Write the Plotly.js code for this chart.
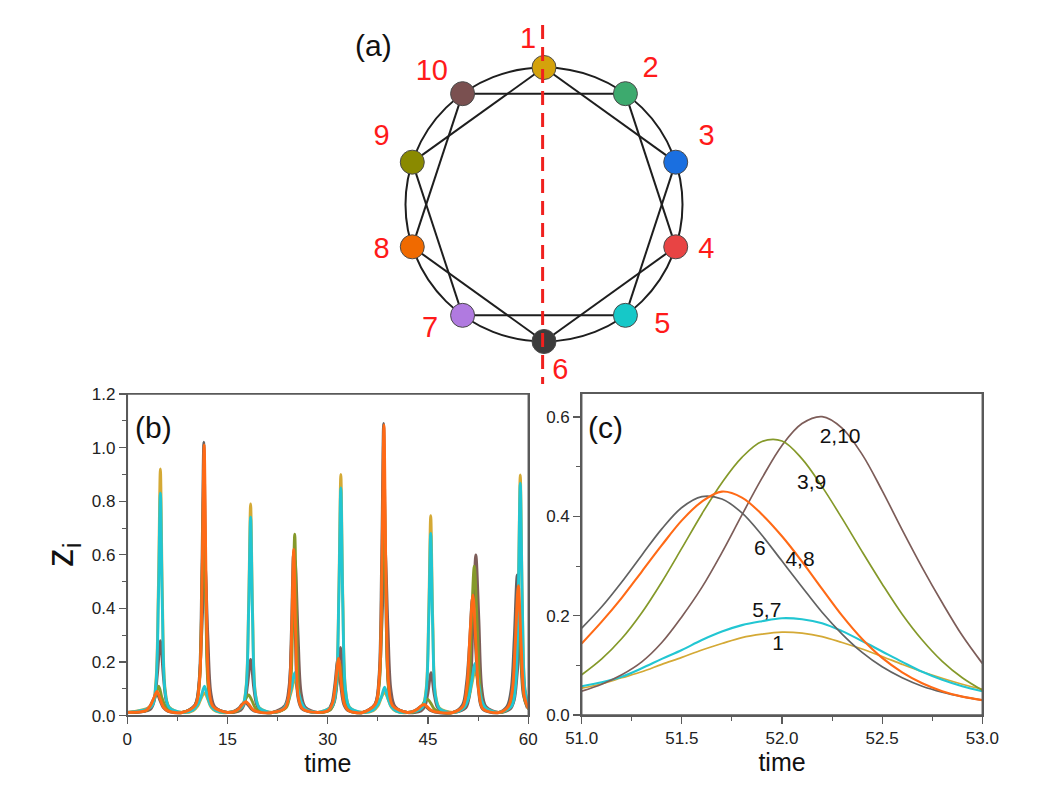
<!DOCTYPE html>
<html>
<head>
<meta charset="utf-8">
<script src="https://cdn.plot.ly/plotly-3.0.1.min.js"></script>
<style>
  html, body { margin: 0; padding: 0; background: #ffffff; }
  #chart { width: 1057px; height: 789px; }
</style>
</head>
<body>
<div id="chart"></div>
<script>
// ---------------- Panel (a): network of 10 oscillators ----------------
const nodeIds = [1, 2, 3, 4, 5, 6, 7, 8, 9, 10];
const nodeColors = ['#D4A20C', '#3DAA6E', '#1A6FE0', '#E84444', '#16C8C8',
                    '#3C3C3C', '#B07AE0', '#F06A00', '#8A8A00', '#7A5050'];
// chords (second-neighbour coupling); the ring itself links neighbours
const edges = [[1, 3], [1, 9], [2, 4], [2, 10], [3, 5], [4, 6], [5, 7], [6, 8], [7, 9], [8, 10]];

// ---------------- Panel (b): z_i versus time, 0..60 ----------------
const tA = [0, 3.65,4.25,4.65,4.95,5.25,5.65,6.25, 8.2, 9.85,10.55,11.05,11.55,12.05,12.55,13.25, 15.0,
  17.15,17.75,18.15,18.45,18.75,19.15,19.75, 21.7, 23.35,24.05,24.55,25.05,25.55,26.05,26.75, 28.5,
  30.65,31.25,31.65,31.95,32.25,32.65,33.25, 35.2, 36.8,37.5,38.0,38.5,39.0,39.5,40.2, 41.9,
  44.1,44.7,45.1,45.4,45.7,46.1,46.7, 48.7, 50.35,51.05,51.55,52.05,52.55,53.05,53.75, 55.6,
  57.5,58.1,58.5,58.8,59.1,59.5,60.1];
const zNode1 = [0.012, 0.038,0.12,0.478,0.92,0.442,0.101,0.033, 0.012, 0.019,0.036,0.065,0.085,0.061,0.031,0.017, 0.012,
  0.034,0.103,0.41,0.79,0.38,0.087,0.03, 0.012, 0.024,0.052,0.091,0.14,0.084,0.045,0.021, 0.012,
  0.037,0.117,0.468,0.90,0.432,0.099,0.032, 0.012, 0.019,0.036,0.067,0.088,0.063,0.032,0.017, 0.012,
  0.032,0.097,0.388,0.746,0.358,0.082,0.029, 0.012, 0.027,0.06,0.118,0.167,0.11,0.05,0.023, 0.012,
  0.037,0.117,0.467,0.898,0.431,0.099,0.032];
const zNode57 = [0.012, 0.035,0.108,0.432,0.83,0.398,0.091,0.031, 0.012, 0.021,0.043,0.072,0.11,0.066,0.035,0.019, 0.012,
  0.032,0.096,0.385,0.74,0.355,0.081,0.029, 0.012, 0.026,0.058,0.104,0.16,0.096,0.05,0.023, 0.012,
  0.036,0.11,0.442,0.85,0.408,0.094,0.031, 0.012, 0.021,0.042,0.069,0.106,0.064,0.034,0.018, 0.012,
  0.03,0.088,0.354,0.68,0.326,0.075,0.027, 0.012, 0.03,0.066,0.13,0.195,0.125,0.055,0.026, 0.012,
  0.036,0.113,0.451,0.867,0.416,0.095,0.032];

const tB210 = [0, 3.45,4.05,4.5,4.95,5.4,5.85,6.45, 8.2, 10.1,10.7,11.15,11.6,12.05,12.5,13.1, 15.0,
  16.95,17.55,18.0,18.45,18.9,19.35,19.95, 21.7, 23.6,24.2,24.65,25.1,25.55,26.0,26.6, 28.5,
  30.4,31.0,31.45,31.9,32.35,32.8,33.4, 35.2, 37.05,37.65,38.1,38.55,39.0,39.45,40.05, 41.9,
  43.95,44.55,45.0,45.45,45.9,46.35,46.95, 48.7, 50.65,51.25,51.7,52.15,52.6,53.05,53.65, 55.6,
  57.3,57.9,58.35,58.8,59.25,59.7,60.3];
const zNode210 = [0.012, 0.024,0.058,0.154,0.28,0.146,0.052,0.021, 0.012, 0.039,0.108,0.316,0.575,0.299,0.086,0.033, 0.012,
  0.02,0.046,0.116,0.21,0.109,0.042,0.018, 0.012, 0.039,0.109,0.319,0.58,0.302,0.087,0.033, 0.012,
  0.023,0.053,0.14,0.255,0.133,0.048,0.02, 0.012, 0.042,0.117,0.347,0.63,0.328,0.095,0.035, 0.012,
  0.018,0.037,0.088,0.16,0.083,0.034,0.016, 0.012, 0.03,0.09,0.33,0.6,0.36,0.1,0.035, 0.012,
  0.025,0.059,0.16,0.29,0.151,0.053,0.02];

const tB39 = [0, 3.0,3.7,4.2,4.7,5.2,5.7,6.4, 8.2, 10.15,10.75,11.15,11.45,11.75,12.15,12.75, 15.0,
  16.45,17.15,17.65,18.15,18.65,19.15,19.85, 21.7, 23.75,24.35,24.75,25.05,25.35,25.75,26.35, 28.5,
  30.25,30.85,31.3,31.75,32.2,32.65,33.25, 35.2, 37.1,37.7,38.1,38.4,38.7,39.1,39.7, 41.9,
  43.2,43.9,44.4,44.9,45.4,45.9,46.6, 48.7, 50.42,51.02,51.47,51.92,52.37,52.82,53.42, 55.6,
  57.05,57.65,58.1,58.55,59.0,59.45,60.05];
const zNode39 = [0.012, 0.021,0.043,0.072,0.11,0.066,0.035,0.019, 0.012, 0.036,0.11,0.442,0.85,0.408,0.094,0.031, 0.012,
  0.018,0.033,0.06,0.077,0.056,0.029,0.016, 0.012, 0.03,0.088,0.352,0.677,0.325,0.074,0.027, 0.012,
  0.02,0.044,0.11,0.2,0.104,0.04,0.018, 0.012, 0.037,0.117,0.468,0.9,0.432,0.099,0.032, 0.012,
  0.016,0.029,0.05,0.062,0.047,0.026,0.015, 0.012, 0.032,0.085,0.33,0.558,0.33,0.1,0.032, 0.012,
  0.027,0.068,0.187,0.34,0.177,0.061,0.024];

const tB48 = [0, 2.75,3.45,3.95,4.45,4.95,5.45,6.15, 8.2, 10.2,10.8,11.2,11.5,11.8,12.2,12.8, 15.0,
  16.05,16.75,17.25,17.75,18.25,18.75,19.45, 21.7, 23.6,24.2,24.6,24.9,25.2,25.6,26.2, 28.5,
  30.1,30.7,31.15,31.6,32.05,32.5,33.1, 35.2, 37.1,37.7,38.1,38.4,38.7,39.1,39.7, 41.9,
  42.7,43.4,43.9,44.4,44.9,45.4,46.1, 48.7, 50.22,50.82,51.27,51.72,52.17,52.62,53.22, 55.6,
  57.0,57.6,58.05,58.5,58.95,59.4,60.0];
const zNode48 = [0.012, 0.019,0.037,0.065,0.09,0.06,0.03,0.017, 0.012, 0.04,0.131,0.525,1.01,0.485,0.111,0.035, 0.012,
  0.016,0.027,0.043,0.052,0.04,0.024,0.015, 0.012, 0.029,0.081,0.322,0.62,0.298,0.068,0.026, 0.012,
  0.021,0.046,0.118,0.214,0.111,0.042,0.019, 0.012, 0.043,0.141,0.564,1.085,0.521,0.119,0.037, 0.012,
  0.015,0.024,0.035,0.042,0.033,0.021,0.014, 0.012, 0.035,0.11,0.3,0.45,0.26,0.085,0.025, 0.012,
  0.034,0.092,0.267,0.485,0.252,0.073,0.027];

const tB6 = [0, 2.7,3.4,3.9,4.4,4.9,5.4,6.1, 8.2, 10.15,10.75,11.15,11.45,11.75,12.15,12.75, 15.0,
  15.95,16.65,17.15,17.65,18.15,18.65,19.35, 21.7, 23.55,24.15,24.55,24.85,25.15,25.55,26.15, 28.5,
  30.0,30.6,31.05,31.5,31.95,32.4,33.0, 35.2, 37.05,37.65,38.05,38.35,38.65,39.05,39.65, 41.9,
  42.6,43.3,43.8,44.3,44.8,45.3,46.0, 48.7, 50.15,50.75,51.2,51.65,52.1,52.55,53.15, 55.6,
  56.85,57.45,57.9,58.35,58.8,59.25,59.85];
const zNode6 = [0.012, 0.018,0.036,0.061,0.085,0.056,0.03,0.016, 0.012, 0.041,0.133,0.53,1.02,0.49,0.112,0.036, 0.012,
  0.016,0.027,0.042,0.05,0.038,0.023,0.015, 0.012, 0.028,0.078,0.312,0.6,0.288,0.066,0.025, 0.012,
  0.021,0.046,0.116,0.21,0.109,0.042,0.019, 0.012, 0.043,0.142,0.567,1.09,0.523,0.12,0.037, 0.012,
  0.015,0.023,0.033,0.04,0.031,0.02,0.014, 0.012, 0.04,0.12,0.265,0.443,0.265,0.095,0.025, 0.012,
  0.036,0.1,0.289,0.525,0.273,0.079,0.029];

// ---------------- Panel (c): zoom 51..53 ----------------
const tC = [51.0,51.1,51.2,51.3,51.4,51.5,51.6,51.7,51.8,51.9,52.0,52.1,52.2,52.3,52.4,52.5,52.6,52.7,52.8,52.9,53.0];
const cNode6   = [0.175,0.218,0.268,0.322,0.375,0.418,0.44,0.435,0.407,0.362,0.31,0.258,0.207,0.163,0.126,0.097,0.075,0.058,0.046,0.037,0.03];
const cNode48  = [0.144,0.188,0.236,0.289,0.342,0.392,0.43,0.45,0.438,0.404,0.36,0.309,0.254,0.2,0.153,0.115,0.086,0.064,0.048,0.037,0.03];
const cNode39  = [0.081,0.113,0.154,0.206,0.268,0.336,0.405,0.468,0.519,0.551,0.552,0.516,0.46,0.396,0.329,0.264,0.203,0.151,0.108,0.075,0.05];
const cNode210 = [0.048,0.062,0.081,0.107,0.146,0.198,0.257,0.327,0.403,0.477,0.543,0.587,0.601,0.578,0.525,0.452,0.373,0.297,0.226,0.16,0.104];
const cNode57  = [0.058,0.066,0.077,0.094,0.113,0.131,0.151,0.168,0.181,0.189,0.195,0.193,0.185,0.169,0.149,0.128,0.107,0.087,0.071,0.058,0.048];
const cNode1   = [0.054,0.063,0.075,0.087,0.102,0.116,0.131,0.144,0.156,0.163,0.167,0.165,0.158,0.146,0.133,0.118,0.102,0.087,0.074,0.062,0.052];
const cLabels = ['2,10', '3,9', '6', '4,8', '5,7', '1'];
const cLabelT = [52.29, 52.148, 51.89, 52.09, 51.924, 51.98];
const cLabelZ = [0.559, 0.465, 0.332, 0.311, 0.208, 0.141];

// ---------------- styling ----------------
const FONT = 'Liberation Sans, Arial, Helvetica, sans-serif';
const col = {n1: '#D4A935', n57: '#22C6D2', n210: '#7D5D59', n39: '#85992A', n48: '#FF6A16', n6: '#626262'};
const FRAME = '#5a5a5a';

// network geometry (layout of nodes on a ring)
const deg = Math.PI / 180;
const nodeAngle = nodeIds.map(k => (90 - 36 * (k - 1)) * deg);
const nodeX = nodeAngle.map(a => Math.cos(a));
const nodeY = nodeAngle.map(a => Math.sin(a));
const labelOffsetDeg = [5.5, -2, 4.5, 2, 8, 5.5, -6, -2, -4.5, 4];
const labelRadius = [1.2, 1.25, 1.27, 1.22, 1.23, 1.23, 1.23, 1.22, 1.27, 1.26];
const labX = nodeAngle.map((a, i) => labelRadius[i] * Math.cos(a + labelOffsetDeg[i] * deg));
const labY = nodeAngle.map((a, i) => labelRadius[i] * Math.sin(a + labelOffsetDeg[i] * deg));

const ex = [], ey = [];
edges.forEach(([a, b]) => {
  ex.push(nodeX[a - 1], nodeX[b - 1], null);
  ey.push(nodeY[a - 1], nodeY[b - 1], null);
});

const traces = [];
// (b)
const bSeries = [
  {t: tA, z: zNode1, c: col.n1, name: '1'},
  {t: tB6, z: zNode6, c: col.n6, name: '6'},
  {t: tB210, z: zNode210, c: col.n210, name: '2,10'},
  {t: tB39, z: zNode39, c: col.n39, name: '3,9'},
  {t: tA, z: zNode57, c: col.n57, name: '5,7'},
  {t: tB48, z: zNode48, c: col.n48, name: '4,8'}
];
bSeries.forEach(s => traces.push({x: s.t, y: s.z, xaxis: 'x', yaxis: 'y', type: 'scatter', mode: 'lines',
  name: s.name, line: {color: s.c, width: 2.9, shape: 'spline', smoothing: 0.9}}));

// (c)
const cSeries = [
  {z: cNode1, c: col.n1, w: 1.7, name: '1'},
  {z: cNode57, c: col.n57, w: 2.1, name: '5,7'},
  {z: cNode210, c: col.n210, w: 1.7, name: '2,10'},
  {z: cNode39, c: col.n39, w: 1.7, name: '3,9'},
  {z: cNode6, c: col.n6, w: 1.7, name: '6'},
  {z: cNode48, c: col.n48, w: 2.1, name: '4,8'}
];
cSeries.forEach(s => traces.push({x: tC, y: s.z, xaxis: 'x2', yaxis: 'y2', type: 'scatter', mode: 'lines',
  name: s.name, line: {color: s.c, width: s.w, shape: 'spline'}}));
traces.push({x: cLabelT, y: cLabelZ, xaxis: 'x2', yaxis: 'y2', type: 'scatter', mode: 'text',
  text: cLabels, textposition: 'middle center', textfont: {family: FONT, size: 21, color: '#111'}, hoverinfo: 'skip'});

// (a)
traces.push({x: ex, y: ey, xaxis: 'x3', yaxis: 'y3', mode: 'lines', type: 'scatter',
  line: {color: '#1e1e1e', width: 2}, hoverinfo: 'skip'});
traces.push({x: nodeX, y: nodeY, xaxis: 'x3', yaxis: 'y3', mode: 'markers', type: 'scatter',
  marker: {size: 24, color: nodeColors, line: {color: '#4a4a4a', width: 1}}, text: nodeIds.map(String), hoverinfo: 'text'});
traces.push({x: labX, y: labY, xaxis: 'x3', yaxis: 'y3', mode: 'text', type: 'scatter',
  text: nodeIds.map(String), textposition: 'middle center',
  textfont: {family: FONT, size: 29, color: '#FF1A1A'}, hoverinfo: 'skip'});

const axisBase = {
  showline: true, mirror: true, linecolor: FRAME, linewidth: 1.5,
  ticks: 'outside', ticklen: 7, tickwidth: 1.3, tickcolor: FRAME,
  showgrid: false, zeroline: false,
  tickfont: {family: FONT, size: 17, color: '#222'},
  minor: {ticks: 'outside', ticklen: 4, tickwidth: 1, tickcolor: FRAME, showgrid: false}
};
const W = 1057, H = 789;
const layout = {
  width: W, height: H,
  margin: {l: 0, r: 0, t: 0, b: 0},
  paper_bgcolor: '#ffffff', plot_bgcolor: 'rgba(0,0,0,0)',
  showlegend: false,
  font: {family: FONT, color: '#111'},
  xaxis: Object.assign({}, axisBase, {
    domain: [127.3 / W, 528.3 / W], range: [0, 60], tick0: 0, dtick: 15,
    minor: Object.assign({}, axisBase.minor, {dtick: 7.5}),
    title: {text: 'time', font: {family: FONT, size: 25, color: '#111'}, standoff: 0},
    anchor: 'y'
  }),
  yaxis: Object.assign({}, axisBase, {
    domain: [1 - 715.7 / H, 1 - 394 / H], range: [0, 1.2], tick0: 0, dtick: 0.2, tickformat: '.1f',
    minor: Object.assign({}, axisBase.minor, {dtick: 0.1}),
    title: {text: 'z<sub>i</sub>', font: {family: FONT, size: 38, color: '#111'}, standoff: 6},
    anchor: 'x'
  }),
  xaxis2: Object.assign({}, axisBase, {
    domain: [581.7 / W, 982.3 / W], range: [51, 53], tick0: 51, dtick: 0.5, tickformat: '.1f',
    minor: Object.assign({}, axisBase.minor, {dtick: 0.25}),
    title: {text: 'time', font: {family: FONT, size: 25, color: '#111'}, standoff: 0},
    anchor: 'y2'
  }),
  yaxis2: Object.assign({}, axisBase, {
    domain: [1 - 715 / H, 1 - 393.3 / H], range: [0, 0.648], tick0: 0, dtick: 0.2, tickformat: '.1f',
    minor: Object.assign({}, axisBase.minor, {dtick: 0.1}),
    anchor: 'x2'
  }),
  xaxis3: {domain: [344 / W, 744 / W], range: [-200 / 138.5, 200 / 138.5], visible: false, fixedrange: true, anchor: 'y3'},
  yaxis3: {domain: [1 - 390 / H, 1 - 15 / H], range: [-(390 - 204.5) / 137, (204.5 - 15) / 137], visible: false, fixedrange: true, anchor: 'x3'},
  shapes: [
    {type: 'circle', xref: 'x3', yref: 'y3', x0: -1, x1: 1, y0: -1, y1: 1,
     line: {color: '#1e1e1e', width: 2}, layer: 'below'},
    {type: 'line', xref: 'x3', yref: 'y3', x0: -0.01, x1: -0.01, y0: 1.31, y1: -1.31,
     line: {color: '#F0201E', width: 3, dash: '14px,8px'}, layer: 'above'},
    // full frames round panels (b) and (c)
    {type: 'rect', xref: 'x domain', yref: 'y domain', x0: 0, x1: 1, y0: 0, y1: 1,
     line: {color: FRAME, width: 1.5}, fillcolor: 'rgba(0,0,0,0)', layer: 'above'},
    {type: 'rect', xref: 'x2 domain', yref: 'y2 domain', x0: 0, x1: 1, y0: 0, y1: 1,
     line: {color: FRAME, width: 1.5}, fillcolor: 'rgba(0,0,0,0)', layer: 'above'}
  ],
  annotations: [
    {text: '(a)', xref: 'paper', yref: 'paper', x: 373 / W, y: 1 - 45 / H, showarrow: false,
     font: {family: FONT, size: 30, color: '#111'}, xanchor: 'center', yanchor: 'middle'},
    {text: '(b)', xref: 'paper', yref: 'paper', x: 153 / W, y: 1 - 427 / H, showarrow: false,
     font: {family: FONT, size: 30, color: '#111'}, xanchor: 'center', yanchor: 'middle'},
    {text: '(c)', xref: 'paper', yref: 'paper', x: 605 / W, y: 1 - 427 / H, showarrow: false,
     font: {family: FONT, size: 30, color: '#111'}, xanchor: 'center', yanchor: 'middle'}
  ]
};

Plotly.newPlot('chart', traces, layout, {staticPlot: true, displayModeBar: false});
</script>
</body>
</html>
